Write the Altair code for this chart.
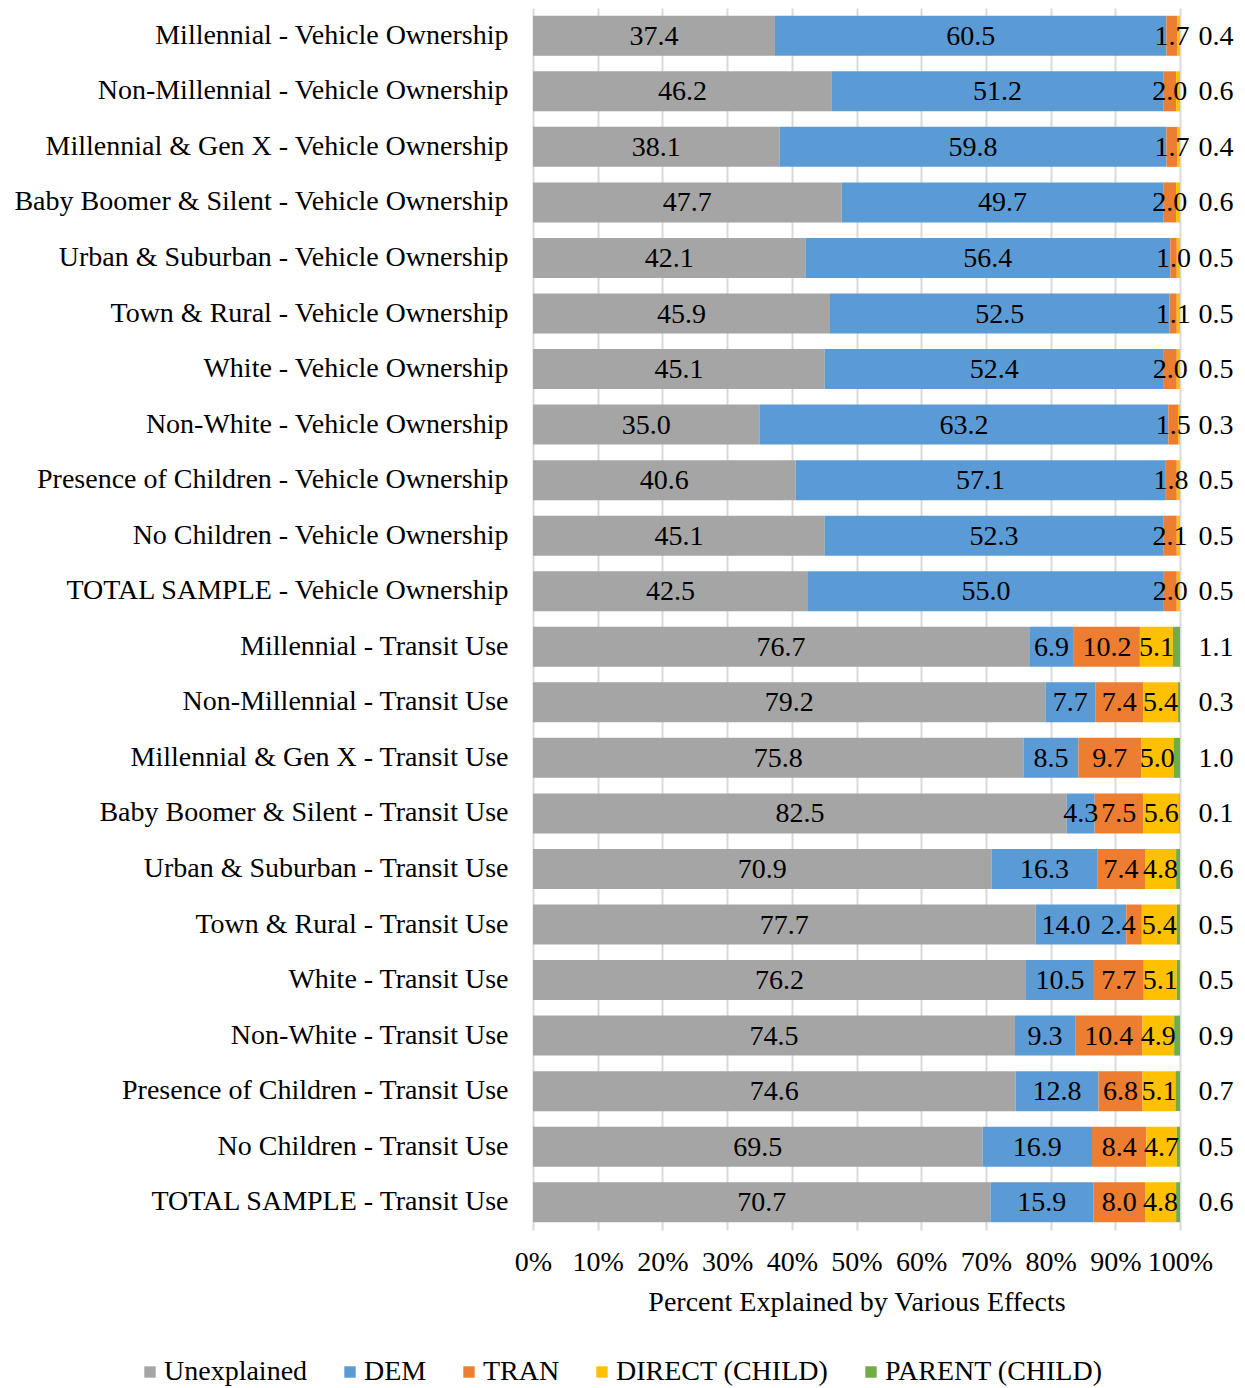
import altair as alt
import pandas as pd

groups = ["Millennial", "Non-Millennial", "Millennial & Gen X", "Baby Boomer & Silent",
          "Urban & Suburban", "Town & Rural", "White", "Non-White",
          "Presence of Children", "No Children", "TOTAL SAMPLE"]

veh_unexplained = [37.4, 46.2, 38.1, 47.7, 42.1, 45.9, 45.1, 35.0, 40.6, 45.1, 42.5]
veh_dem = [60.5, 51.2, 59.8, 49.7, 56.4, 52.5, 52.4, 63.2, 57.1, 52.3, 55.0]
veh_tran = [1.7, 2.0, 1.7, 2.0, 1.0, 1.1, 2.0, 1.5, 1.8, 2.1, 2.0]
veh_direct = [0.4, 0.6, 0.4, 0.6, 0.5, 0.5, 0.5, 0.3, 0.5, 0.5, 0.5]

tr_unexplained = [76.7, 79.2, 75.8, 82.5, 70.9, 77.7, 76.2, 74.5, 74.6, 69.5, 70.7]
tr_dem = [6.9, 7.7, 8.5, 4.3, 16.3, 14.0, 10.5, 9.3, 12.8, 16.9, 15.9]
tr_tran = [10.2, 7.4, 9.7, 7.5, 7.4, 2.4, 7.7, 10.4, 6.8, 8.4, 8.0]
tr_direct = [5.1, 5.4, 5.0, 5.6, 4.8, 5.4, 5.1, 4.9, 5.1, 4.7, 4.8]
tr_parent = [1.1, 0.3, 1.0, 0.1, 0.6, 0.5, 0.5, 0.9, 0.7, 0.5, 0.6]

series = ["Unexplained", "DEM", "TRAN", "DIRECT (CHILD)", "PARENT (CHILD)"]
colors = ["#A5A5A5", "#5B9BD5", "#ED7D31", "#FFC000", "#70AD47"]

FONT = "Liberation Serif"
FS = 28

rows = []
cats = []
for i, g in enumerate(groups):
    c = f"{g} - Vehicle Ownership"
    cats.append(c)
    vals = [veh_unexplained[i], veh_dem[i], veh_tran[i], veh_direct[i]]
    for k, v in enumerate(vals):
        rows.append(dict(cat=c, series=series[k], ord=k, value=v,
                         inside=(k < 3), narrow=False, before=False, right=(k == 3)))
for i, g in enumerate(groups):
    c = f"{g} - Transit Use"
    cats.append(c)
    vals = [tr_unexplained[i], tr_dem[i], tr_tran[i], tr_direct[i], tr_parent[i]]
    tran_narrow = vals[2] < 3
    for k, v in enumerate(vals):
        nar = (k == 2 and tran_narrow)
        bef = (k == 1 and tran_narrow)
        rows.append(dict(cat=c, series=series[k], ord=k, value=v,
                         inside=(k < 4 and not nar and not bef), narrow=nar,
                         before=bef, right=(k == 4)))

df = pd.DataFrame(rows)

W = 647
H = 1222

base = alt.Chart(df).transform_stack(
    stack="value", groupby=["cat"], as_=["v0", "v1"],
    sort=[alt.SortField("ord", order="ascending")]
).transform_calculate(
    mid="(datum.v0 + datum.v1) / 2",
    lbl="format(datum.value, '.1f')"
)

yenc = alt.Y("cat:N", sort=cats, title=None,
             scale=alt.Scale(paddingInner=0.28, paddingOuter=0.14),
             axis=alt.Axis(labelFont=FONT, labelFontSize=FS, labelColor="black",
                           labelPadding=25, ticks=False, domain=False, grid=False,
                           labelLimit=800))

xscale = alt.Scale(domain=[0, 100], nice=False, clamp=True)

bars = base.mark_bar(stroke=None).encode(
    x=alt.X("v0:Q", scale=xscale, title="Percent Explained by Various Effects",
            axis=alt.Axis(values=list(range(0, 101, 10)), labelExpr="datum.value + '%'",
                          labelOverlap=False, labelFlush=False,
                          labelFont=FONT, labelFontSize=FS, labelColor="black",
                          titleFont=FONT, titleFontSize=FS, titleColor="black",
                          titleFontWeight="normal", labelPadding=18, titlePadding=12,
                          ticks=False, domain=False, grid=True, gridColor="#D9D9D9",
                          gridWidth=2)),
    x2="v1:Q",
    y=yenc,
    color=alt.Color("series:N", sort=series,
                    scale=alt.Scale(domain=series, range=colors),
                    legend=alt.Legend(title=None, orient="none", direction="horizontal",
                                      legendX=-397, legendY=1350,
                                      labelFont=FONT, labelFontSize=FS, labelColor="black",
                                      labelLimit=0,
                                      symbolType="square", symbolSize=130,
                                      symbolStrokeWidth=0, labelOffset=0,
                                      columnPadding=28, columns=5)),
    order=alt.Order("ord:Q")
)

inside = base.transform_filter("datum.inside").mark_text(
    font=FONT, fontSize=FS, color="black", align="center", baseline="middle", dy=1
).encode(
    x=alt.X("mid:Q", scale=xscale),
    y=alt.Y("cat:N", sort=cats),
    text="lbl:N"
)

before = base.transform_filter("datum.before").mark_text(
    font=FONT, fontSize=FS, color="black", align="center", baseline="middle", dy=1, dx=-15
).encode(
    x=alt.X("mid:Q", scale=xscale),
    y=alt.Y("cat:N", sort=cats),
    text="lbl:N"
)

narrow = base.transform_filter("datum.narrow").mark_text(
    font=FONT, fontSize=FS, color="black", align="right", baseline="middle", dy=1, dx=-6
).encode(
    x=alt.X("v1:Q", scale=xscale),
    y=alt.Y("cat:N", sort=cats),
    text="lbl:N"
)

right = base.transform_filter("datum.right").mark_text(
    font=FONT, fontSize=FS, color="black", align="center", baseline="middle", dx=36, dy=1
).encode(
    x=alt.datum(100, scale=xscale),
    y=alt.Y("cat:N", sort=cats),
    text="lbl:N"
)

chart = alt.layer(bars, inside, before, narrow, right).properties(
    width=W, height=H, padding={"left": 5, "top": 0, "right": 0, "bottom": 0}
).configure_view(stroke=None)

chart.save("out.html", embed_options={"renderer": "svg", "actions": False})
